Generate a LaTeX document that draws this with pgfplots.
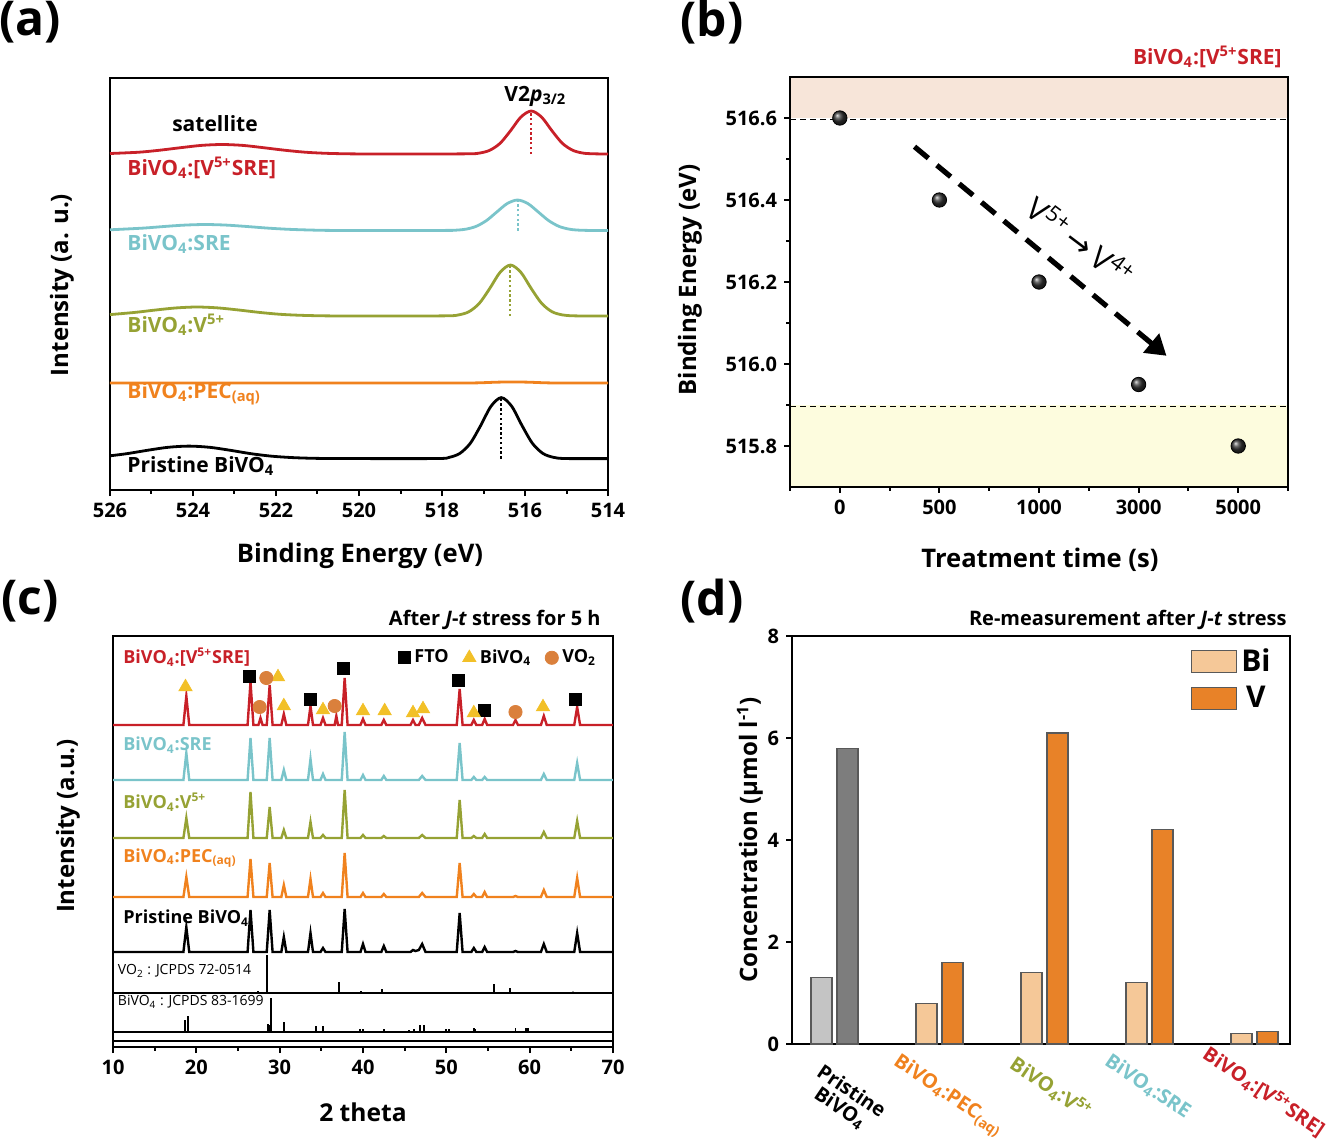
\documentclass[border=0pt]{standalone}
\usepackage{fontspec}
\setmainfont{Open Sans}
\newfontfamily\dejavu{DejaVu Sans}
\usepackage{pgfplots}
\usepackage{pgfplotstable}
\pgfplotsset{compat=1.18}
\usetikzlibrary{arrows.meta}

\definecolor{cred}{RGB}{200,32,40}
\definecolor{ccyan}{RGB}{122,196,202}
\definecolor{colive}{RGB}{150,162,52}
\definecolor{corange}{RGB}{240,130,30}
\definecolor{tri}{RGB}{242,192,40}
\definecolor{circ}{RGB}{218,128,60}
\definecolor{pinkbg}{RGB}{247,229,217}
\definecolor{yellowbg}{RGB}{253,252,222}
\definecolor{bipeach}{RGB}{245,200,152}
\definecolor{vorange}{RGB}{232,130,40}
\definecolor{grayl}{RGB}{196,196,196}
\definecolor{grayd}{RGB}{125,125,125}

\newcommand{\bv}{BiVO\textsubscript{4}}
\newcommand{\fs}[1]{\fontsize{#1}{#1}\selectfont}

% XRD patterns, panel (c): offset traces (x = 2 theta)
\pgfplotstableread{
x     r    c    o    g    k
10    322  267  209  150  95
18.45 322  267  209  150  95
18.8  351  294  229  170  120
19.15 322  267  209  150  95
26.15 322  267  209  150  95
26.5  365  309  255  188  137
26.85 322  267  209  150  95
27.45 322  267  209  150  95
27.7  329  267  209  150  95
27.95 322  267  209  150  95
28.45 322  267  209  150  95
28.8  362  309  240  184  137
29.15 322  267  209  150  95
30.2  322  267  209  150  95
30.5  333  277  217  162  110
30.8  322  267  209  150  95
33.4  322  267  209  150  95
33.7  341  288  225  168  114
34.0  322  267  209  150  95
34.9  322  267  209  150  95
35.2  329  273  212  154  99
35.5  322  267  209  150  95
36.6  322  267  209  150  95
36.8  331  267  209  150  95
37.0  322  267  209  150  95
37.45 322  267  209  150  95
37.8  369  315  257  194  138
38.15 322  267  209  150  95
39.7  322  267  209  150  95
40.0  328  272  212  154  103
40.3  322  267  209  150  95
42.2  322  267  209  150  95
42.5  327  271  211  153  101
42.8  322  267  209  150  95
45.7  322  267  209  150  95
46.0  327  267  209  150  97
46.3  322  267  209  150  96
46.7  322  267  209  150  97
47.1  329  271  212  154  103
47.5  322  267  209  150  95
51.25 322  267  209  150  95
51.6  358  304  247  184  134
51.95 322  267  209  150  95
53.0  322  267  209  150  95
53.3  327  270  211  153  99
53.6  322  267  209  150  95
54.3  322  267  209  150  95
54.6  328  270  213  155  100
54.9  322  267  209  150  95
58.0  322  267  209  150  95
58.3  327  267  209  151  96
58.6  322  267  209  150  95
61.35 322  267  209  150  95
61.7  331  273  215  157  103
62.05 322  267  209  150  95
65.35 322  267  209  150  95
65.7  340  284  226  169  114
66.05 322  267  209  150  95
70    322  267  209  150  95
}\xrd

\pgfplotsset{
  panel/.style={
    scale only axis,
    clip=false,
    axis line style={line width=1.3pt},
    tick align=outside,
    major tick length=3pt,
    minor tick length=1.8pt,
    every tick/.style={black, line width=1pt},
    tick label style={font=\bfseries\fs{10}},
    /pgf/number format/assume math mode=true,
    xtick pos=bottom, ytick pos=left,
  },
}

\begin{document}
\bfseries
\begin{tikzpicture}
\useasboundingbox (0,0) rectangle (671pt,-572.5pt);

% ---------------- (a) XPS V2p ----------------
\begin{axis}[panel, at={(55pt,-245pt)}, anchor=south west,
  width=249pt, height=206pt,
  x dir=reverse, xmin=514, xmax=526, ymin=0, ymax=412,
  xtick={514,516,...,526}, minor x tick num=1, ytick=\empty]
\addplot[black, line width=1.4pt, smooth] coordinates {
 (526,34.2)(525.6,36.3)(525.1,39.7)(524.6,42.7)(524.1,43.9)(523.6,42.7)(523.1,39.7)
 (522.6,36.3)(522.1,33.8)(521.6,32.4)(521.1,31.7)(520.6,31.5)(519.5,31.4)(518.07,31.5)
 (517.82,32.7)(517.57,36.6)(517.32,46.6)(517.07,64.3)(516.82,83.7)(516.57,92.4)
 (516.32,83.7)(516.07,64.3)(515.82,46.6)(515.57,36.6)(515.32,32.7)(515.07,31.5)
 (514.5,31.4)(514,31.4)};
\addplot[corange, line width=1.4pt, smooth] coordinates {
 (526,107)(518,107)(517.2,107.1)(516.6,107.9)(516,107.9)(515.4,107.1)(514.6,107)(514,107)};
\addplot[colive, line width=1.4pt, smooth] coordinates {
 (526,175.4)(525.4,177.6)(524.9,180.0)(524.4,182.1)(523.9,183)(523.4,182.1)(522.9,180.0)
 (522.4,177.6)(521.9,175.7)(521.4,174.7)(520.9,174.2)(520.4,174.05)(519,174)(517.85,174.2)
 (517.6,175.1)(517.35,178.3)(517.1,186.7)(516.85,201.5)(516.6,217.7)(516.35,225)
 (516.1,217.7)(515.85,201.5)(515.6,186.7)(515.35,178.3)(515.1,175.1)(514.85,174.2)
 (514.4,174)(514,174)};
\addplot[ccyan, line width=1.4pt, smooth] coordinates {
 (526,260.2)(525.2,261.9)(524.7,263.5)(524.2,264.9)(523.7,265.5)(523.2,264.9)(522.7,263.5)
 (522.2,261.9)(521.7,260.7)(521.2,260)(520.7,259.6)(519.5,259.5)(517.93,259.6)(517.68,259.8)
 (517.43,260.8)(517.18,263.6)(516.93,269.4)(516.68,278)(516.43,286.4)(516.18,290)
 (515.93,286.4)(515.68,278)(515.43,269.4)(515.18,263.6)(514.93,260.8)(514.68,259.8)
 (514.3,259.5)(514,259.5)};
\addplot[cred, line width=1.4pt, smooth] coordinates {
 (526,336.5)(525.3,337.8)(524.8,339.8)(524.3,342.3)(523.8,344.6)(523.3,345.5)(522.8,344.6)
 (522.3,342.3)(521.8,339.8)(521.3,337.8)(520.8,336.7)(520.3,336.2)(519.8,336.05)(518.5,336)
 (517.35,336.2)(517.1,336.9)(516.85,339.7)(516.6,346.7)(516.35,359.2)(516.1,372.9)
 (515.85,379)(515.6,372.9)(515.35,359.2)(515.1,346.7)(514.85,339.7)(514.6,336.9)
 (514.35,336.2)(514,336)};
% peak positions
\addplot[black, line width=1pt, dash pattern=on 1.2pt off 1.2pt] coordinates {(516.57,31.4)(516.57,92)};
\addplot[colive, line width=1pt, dash pattern=on 1.2pt off 1.2pt] coordinates {(516.36,174)(516.36,224)};
\addplot[ccyan, line width=1pt, dash pattern=on 1.2pt off 1.2pt] coordinates {(516.18,259.5)(516.18,289)};
\addplot[cred, line width=1pt, dash pattern=on 1.2pt off 1.2pt] coordinates {(515.85,336)(515.85,378)};
\node[font=\fs{10.5}] at (axis cs:523.47,366) {satellite};
\node[font=\fs{10.5}] at (axis cs:515.75,394) {V2\textit{p}\textsubscript{3/2}};
\begin{scope}[every node/.style={anchor=west, inner xsep=0pt, font=\fs{10.5}}]
\node[cred] at (axis cs:525.59,322) {\bv:[V\textsuperscript{5+}SRE]};
\node[ccyan] at (axis cs:525.59,246) {\bv:SRE};
\node[colive] at (axis cs:525.59,165) {\bv:V\textsuperscript{5+}};
\node[corange] at (axis cs:525.59,96) {\bv:PEC\textsubscript{(aq)}};
\node[black] at (axis cs:525.59,24) {Pristine \bv};
\end{scope}
\end{axis}

% ---------------- (b) binding energy vs time ----------------
\begin{axis}[panel, at={(395pt,-243.5pt)}, anchor=south west,
  width=249pt, height=205pt, axis on top,
  xmin=-0.5, xmax=4.5, ymin=515.7, ymax=516.7,
  xtick={0,1,2,3,4}, xticklabels={0,500,1000,3000,5000},
  minor xtick={-0.5,0.5,1.5,2.5,3.5,4.5},
  ytick={515.8,516,516.2,516.4,516.6}, minor y tick num=1,
  yticklabel style={/pgf/number format/.cd, fixed, fixed zerofill, precision=1}]
\addplot[fill=pinkbg, draw=none] coordinates {(-0.5,516.6)(4.5,516.6)(4.5,516.7)(-0.5,516.7)} -- cycle;
\addplot[fill=yellowbg, draw=none] coordinates {(-0.5,515.7)(4.5,515.7)(4.5,515.9)(-0.5,515.9)} -- cycle;
\addplot[black, line width=0.7pt, dash pattern=on 3pt off 2pt] coordinates {(-0.5,516.597)(4.5,516.597)};
\addplot[black, line width=0.7pt, dash pattern=on 3pt off 2pt] coordinates {(-0.5,515.897)(4.5,515.897)};
\addplot[only marks, mark=ball, mark size=3.6pt, mark options={ball color=black!80}]
  coordinates {(0,516.6)(1,516.4)(2,516.2)(3,515.95)(4,515.8)};
\draw[line width=2.6pt, dash pattern=on 9pt off 5.5pt, -{Triangle[length=10pt,width=12pt]}]
  (axis cs:0.75,516.53) -- (axis cs:3.28,516.02);
\node[rotate=-37, font=\mdseries\fs{15.5}] at (axis cs:2.42,516.30)
  {V\textsuperscript{5+}\,{\dejavu →}\,V\textsuperscript{4+}};
\end{axis}

% ---------------- (c) XRD ----------------
\begin{axis}[panel, at={(56.5pt,-523.5pt)}, anchor=south west,
  width=250pt, height=205.5pt,
  xmin=10, xmax=70, ymin=0, ymax=411,
  xtick={10,20,...,70}, minor x tick num=1, ytick=\empty,
  legend columns=3,
  legend style={at={(rel axis cs:0.975,0.978)}, anchor=north east, draw=none, fill=none,
    font=\bfseries\fs{9}, inner sep=0pt,
    /tikz/every even column/.append style={column sep=5pt}},
  legend image code/.code={\draw[#1] plot coordinates {(0.12cm,0cm)};}]
\addplot[cred, line width=1.2pt, forget plot] table[x=x, y=r] {\xrd};
\addplot[ccyan, line width=1.2pt, forget plot] table[x=x, y=c] {\xrd};
\addplot[colive, line width=1.2pt, forget plot] table[x=x, y=o] {\xrd};
\addplot[corange, line width=1.2pt, forget plot] table[x=x, y=g] {\xrd};
\addplot[black, line width=1.2pt, forget plot] table[x=x, y=k] {\xrd};
% reference patterns
\addplot[black, line width=0.9pt, forget plot] coordinates {
 (10,54)(27.4,54)(27.4,56)(27.4,54)(28.5,54)(28.5,92)(28.5,54)(37.1,54)(37.1,65)(37.1,54)
 (39.8,54)(39.8,56)(39.8,54)(42.3,54)(42.3,58)(42.3,54)(55.7,54)(55.7,63)(55.7,54)
 (57.6,54)(57.6,59)(57.6,54)(65.2,54)(65.2,55.5)(65.2,54)(70,54)};
\addplot[black, line width=0.9pt, forget plot] coordinates {
 (10,15)(15.0,15)(15.0,16)(15.0,15)(18.6,15)(18.6,27)(18.6,15)(18.97,15)(18.97,31)(18.97,15)
 (28.6,15)(28.6,23)(28.6,15)(28.75,15)(28.75,22)(28.75,15)(28.95,15)(28.95,49)(28.95,15)
 (30.5,15)(30.5,25)(30.5,15)(34.4,15)(34.4,21)(34.4,15)(35.2,15)(35.2,21)(35.2,15)
 (39.6,15)(39.6,18)(39.6,15)(40.0,15)(40.0,18)(40.0,15)(42.5,15)(42.5,18)(42.5,15)
 (45.5,15)(45.5,17)(45.5,15)(46.1,15)(46.1,18)(46.1,15)(46.8,15)(46.8,22)(46.8,15)
 (47.3,15)(47.3,22)(47.3,15)(50.0,15)(50.0,18)(50.0,15)(50.3,15)(50.3,18)(50.3,15)
 (53.3,15)(53.3,19)(53.3,15)(53.45,15)(53.45,18)(53.45,15)(54.5,15)(54.5,16)(54.5,15)
 (58.3,15)(58.3,19)(58.3,15)(59.6,15)(59.6,19)(59.6,15)(59.8,15)(59.8,19)(59.8,15)(70,15)};
\addplot[black, line width=0.6pt, forget plot] coordinates {(10,6)(70,6)};
% phase markers
\addplot[only marks, mark=square*, mark size=3pt, black]
  coordinates {(26.4,371)(33.7,348)(37.7,379)(51.4,367)(54.6,337)(65.5,348)};
\addlegendentry{FTO}
\addplot[only marks, mark=triangle*, mark size=3.8pt, tri]
  coordinates {(18.7,360)(29.8,370)(30.5,341)(35.2,337)(40.0,336)(42.6,336)(46.0,334)(47.2,338)(53.3,334)(61.6,340)};
\addlegendentry{\bv}
\addplot[only marks, mark=*, mark size=3.3pt, circ]
  coordinates {(28.4,369)(27.6,340)(36.6,341)(58.3,335)};
\addlegendentry{VO\textsubscript{2}}
\begin{scope}[every node/.style={anchor=west, inner xsep=0pt, font=\fs{9}}]
\node[cred] at (axis cs:11.2,390) {\bv:[V\textsuperscript{5+}SRE]};
\node[ccyan] at (axis cs:11.2,302) {\bv:SRE};
\node[colive] at (axis cs:11.2,245) {\bv:V\textsuperscript{5+}};
\node[corange] at (axis cs:11.2,189) {\bv:PEC\textsubscript{(aq)}};
\node[black] at (axis cs:11.2,129) {Pristine \bv};
\node[black, font=\mdseries\fs{7}] at (axis cs:10.55,76) {VO\textsubscript{2} : JCPDS 72-0514};
\node[black, font=\mdseries\fs{7}] at (axis cs:10.55,45) {\bv\ : JCPDS 83-1699};
\end{scope}
\end{axis}

% ---------------- (d) dissolved ions ----------------
\begin{axis}[panel, at={(396pt,-522pt)}, anchor=south west,
  width=249pt, height=204pt,
  xmin=-0.405, xmax=4.338, ymin=0, ymax=8,
  ytick={0,2,4,6,8}, xtick=\empty,
  ybar, bar width=10.5pt,
  legend cell align=center,
  legend style={at={(rel axis cs:0.982,0.99)}, anchor=north east, draw=none, fill=none,
    font=\bfseries\fs{15}, row sep=2pt, /tikz/column 2/.style={column sep=7pt}},
  legend image code/.code={\draw[#1,/tikz/.cd,bar shift=0pt] (0pt,-5.5pt) rectangle (22.5pt,5.5pt);}]
\addplot[fill=bipeach, draw=black!65, line width=0.6pt, bar shift=-6.5pt]
  coordinates {(1,0.8)(2,1.4)(3,1.2)(4,0.2)};
\addlegendentry{Bi}
\addplot[fill=vorange, draw=black!65, line width=0.6pt, bar shift=6.5pt]
  coordinates {(1,1.6)(2,6.1)(3,4.2)(4,0.25)};
\addlegendentry{V}
\addplot[fill=grayl, draw=black!65, line width=0.6pt, bar shift=-6.5pt, forget plot]
  coordinates {(0,1.3)};
\addplot[fill=grayd, draw=black!65, line width=0.6pt, bar shift=6.5pt, forget plot]
  coordinates {(0,5.8)};
\end{axis}

% x labels of (d)
\begin{scope}[every node/.style={rotate=-34, anchor=north west, inner sep=0pt, font=\fs{10}}]
\node[align=center, black] at (412pt,-531pt) {Pristine\\\bv};
\node[corange] at (450.5pt,-525.5pt) {\bv:PEC\textsubscript{(aq)}};
\node[colive] at (509pt,-526.5pt) {\bv:V\textsuperscript{5+}};
\node[ccyan] at (556pt,-525.5pt) {\bv:SRE};
\node[cred] at (605.5pt,-521.5pt) {\bv:[V\textsuperscript{5+}SRE]};
\end{scope}

% axis labels
\node[font=\fs{12.8}] at (180pt,-278pt) {Binding Energy (eV)};
\node[font=\fs{12}, rotate=90] at (31pt,-142.5pt) {Intensity (a. u.)};
\node[font=\fs{12.8}] at (520pt,-280pt) {Treatment time (s)};
\node[font=\fs{12}, rotate=90] at (345pt,-140pt) {Binding Energy (eV)};
\node[font=\fs{12.3}] at (181.5pt,-556pt) {2 theta};
\node[font=\fs{12}, rotate=90] at (34pt,-413pt) {Intensity (a.u.)};
\node[font=\fs{12}, rotate=90] at (375pt,-420pt) {Concentration (μmol l\textsuperscript{-1})};

% titles
\begin{scope}[every node/.style={anchor=east, inner xsep=0pt}]
\node[cred, font=\fs{10.5}] at (641pt,-28.5pt) {\bv:[V\textsuperscript{5+}SRE]};
\node[font=\fs{10}] at (300.5pt,-310pt) {After \textit{J}-\textit{t} stress for 5 h};
\node[font=\fs{10}] at (643.5pt,-310pt) {Re-measurement after \textit{J}-\textit{t} stress};
\end{scope}

% panel letters
\node[font=\fs{24}] at (15pt,-11pt) {(a)};
\node[font=\fs{24}] at (356pt,-11pt) {(b)};
\node[font=\fs{24}] at (15pt,-300.5pt) {(c)};
\node[font=\fs{24}] at (356pt,-300.5pt) {(d)};
\end{tikzpicture}
\end{document}
